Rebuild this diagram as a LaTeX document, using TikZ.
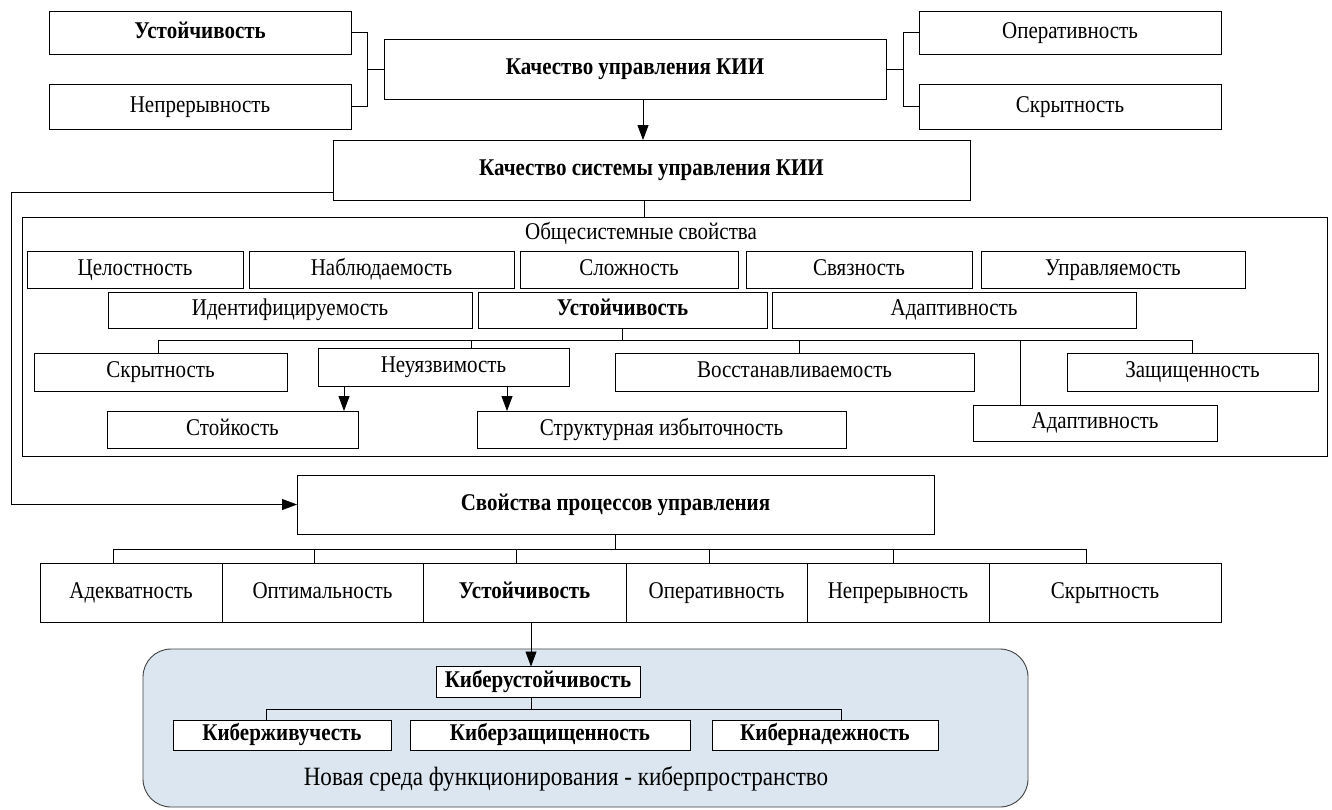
\documentclass[tikz,border=0pt]{standalone}
\usepackage{fontspec}
\setmainfont{Liberation Serif}[FakeStretch=0.875]
\usetikzlibrary{arrows.meta}
\definecolor{envc}{RGB}{220,230,240}
\tikzset{
  ln/.style={line width=0.9pt, draw=black},
  arr/.style={ln, -{Triangle[length=15pt,width=11pt]}},
  box/.style={draw, line width=0.9pt, fill=white, inner sep=0pt, outer sep=0pt,
    font=\fontsize{24}{28}\selectfont, text height=16pt, text depth=5pt, align=center},
  bbox/.style={box, font=\fontsize{24}{28}\selectfont\bfseries},
  lbl/.style={inner sep=0pt, font=\fontsize{24}{28}\selectfont, text height=16pt, text depth=5pt}
}
\begin{document}
\begin{tikzpicture}[x=1pt,y=-1pt]
\useasboundingbox (0,0) rectangle (1332,809);
% --- top level
\node[bbox, minimum width=302pt, minimum height=43pt] (ust1) at (200,32.5) {Устойчивость};
\node[box, minimum width=302pt, minimum height=45pt] (nepr1) at (200,106.5) {Непрерывность};
\node[bbox, minimum width=502pt, minimum height=60pt] (top) at (635,69) {Качество управления КИИ};
\node[box, minimum width=302pt, minimum height=43pt] (oper1) at (1070,32.5) {Оперативность};
\node[box, minimum width=302pt, minimum height=45pt] (skr1) at (1070,106.5) {Скрытность};
\draw[ln] (ust1.east) -- ++(16,0) |- (top.west);
\draw[ln] (nepr1.east) -- ++(16,0) |- (top.west);
\draw[ln] (top.east) -- ++(17,0) |- (oper1.west);
\draw[ln] (top.east) -- ++(17,0) |- (skr1.west);
% --- system quality
\node[bbox, minimum width=637pt, minimum height=60pt] (sys) at (651.5,170) {Качество системы управления КИИ};
\coordinate (a0) at ([xshift=8pt]top.south);
\draw[arr] (a0) -- (a0 |- sys.north);
% --- general properties container
\node[draw, line width=0.9pt, inner sep=0pt, outer sep=0pt, minimum width=1305pt, minimum height=239pt] (gen) at (674.5,336.5) {};
\node[lbl] (genl) at (641,234) {Общесистемные свойства};
\coordinate (a1) at ([xshift=-7.5pt]sys.south);
\draw[ln] (a1) -- (a1 |- gen.north);
% row 1
\node[box, minimum width=216pt, minimum height=37pt] (cel) at (135,269.5) {Целостность};
\node[box, minimum width=265pt, minimum height=37pt] (nabl) at (381.5,269.5) {Наблюдаемость};
\node[box, minimum width=218pt, minimum height=37pt] (slozh) at (629,269.5) {Сложность};
\node[box, minimum width=226pt, minimum height=37pt] (svyaz) at (859,269.5) {Связность};
\node[box, minimum width=264pt, minimum height=37pt] (upr) at (1113,269.5) {Управляемость};
% row 2
\node[box, minimum width=364pt, minimum height=36pt] (ident) at (290,310) {Идентифицируемость};
\node[bbox, minimum width=289pt, minimum height=36pt] (ust2) at (622.5,310) {Устойчивость};
\node[box, minimum width=364pt, minimum height=36pt] (adapt1) at (954,310) {Адаптивность};
% row 3
\node[box, minimum width=253pt, minimum height=38pt] (skr2) at (160.5,372) {Скрытность};
\node[box, minimum width=251pt, minimum height=38pt] (neuyaz) at (443.5,367) {Неуязвимость};
\node[box, minimum width=359pt, minimum height=38pt] (vosst) at (794.5,372) {Восстанавливаемость};
\node[box, minimum width=251pt, minimum height=38pt] (zasch) at (1192.5,372) {Защищенность};
\node[box, minimum width=244pt, minimum height=36pt] (adapt2) at (1095,423) {Адаптивность};
% row 4
\node[box, minimum width=251pt, minimum height=37pt] (stoik) at (232.5,429.5) {Стойкость};
\node[box, minimum width=369pt, minimum height=37pt] (struct) at (661.5,429.5) {Структурная избыточность};
% tree of stability
\coordinate (bus1) at (0,340);
\coordinate (d1) at ([xshift=-2.5pt]skr2.north);
\coordinate (d2) at ([xshift=27.5pt]neuyaz.north);
\coordinate (d3) at ([xshift=4.5pt]vosst.north);
\coordinate (d4) at ([xshift=-75pt]adapt2.north);
\coordinate (d5) at ([xshift=-0.5pt]zasch.north);
\draw[ln] (ust2.south) -- (ust2.south |- bus1);
\draw[ln] (d1) |- (d5 |- bus1) -- (d5);
\draw[ln] (d2) -- (d2 |- bus1);
\draw[ln] (d3) -- (d3 |- bus1);
\draw[ln] (d4) -- (d4 |- bus1);
\coordinate (n1) at ([xshift=111.5pt]stoik.north);
\coordinate (n2) at ([xshift=-154.5pt]struct.north);
\draw[arr] (n1 |- neuyaz.south) -- (n1);
\draw[arr] (n2 |- neuyaz.south) -- (n2);
% --- process properties
\node[bbox, minimum width=637pt, minimum height=59pt] (proc) at (615.5,504.5) {Свойства процессов управления};
\draw[arr] ([yshift=-22pt]sys.west) -- ++(-322,0) |- (proc.west);
\node[box, minimum width=182pt, minimum height=59pt] (adekv) at (131,592.5) {Адекватность};
\node[box, minimum width=201pt, minimum height=59pt] (optim) at (322.5,592.5) {Оптимальность};
\node[bbox, minimum width=203pt, minimum height=59pt] (ust3) at (524.5,592.5) {Устойчивость};
\node[box, minimum width=181pt, minimum height=59pt] (oper2) at (716.5,592.5) {Оперативность};
\node[box, minimum width=182pt, minimum height=59pt] (nepr2) at (898,592.5) {Непрерывность};
\node[box, minimum width=232pt, minimum height=59pt] (skr3) at (1105,592.5) {Скрытность};
\coordinate (bus2) at (0,549);
\coordinate (p1) at ([xshift=-18pt]adekv.north);
\coordinate (p2) at ([xshift=-8.5pt]optim.north);
\coordinate (p3) at ([xshift=-8.5pt]ust3.north);
\coordinate (p4) at ([xshift=-7.5pt]oper2.north);
\coordinate (p5) at ([xshift=-5pt]nepr2.north);
\coordinate (p6) at ([xshift=-19pt]skr3.north);
\draw[ln] (proc.south) -- (proc.south |- bus2);
\draw[ln] (p1) |- (p6 |- bus2) -- (p6);
\draw[ln] (p2) -- (p2 |- bus2);
\draw[ln] (p3) -- (p3 |- bus2);
\draw[ln] (p4) -- (p4 |- bus2);
\draw[ln] (p5) -- (p5 |- bus2);
% --- cyber environment
\node[draw, line width=0.9pt, draw=black!75, fill=envc, rounded corners=28pt, inner sep=0pt, minimum width=885pt, minimum height=158pt] (env) at (585.5,728) {};
\node[lbl, font=\fontsize{26.4}{30}\selectfont] (envl) at (566,780) {Новая среда функционирования - киберпространство};
\node[bbox, minimum width=204pt, minimum height=31pt] (kust) at (538,682) {Киберустойчивость};
\node[bbox, minimum width=218pt, minimum height=30pt] (kziv) at (282,735) {Киберживучесть};
\node[bbox, minimum width=280pt, minimum height=30pt] (kzasch) at (550,735) {Киберзащищенность};
\node[bbox, minimum width=226pt, minimum height=30pt] (knad) at (825,735) {Кибернадежность};
\coordinate (a3) at ([xshift=6.5pt]ust3.south);
\draw[arr] (a3) -- (a3 |- kust.north);
\coordinate (bus3) at (0,709);
\coordinate (k0) at ([xshift=-7pt]kust.south);
\coordinate (k1) at ([xshift=-16pt]kziv.north);
\coordinate (k3) at ([xshift=16pt]knad.north);
\draw[ln] (k0) -- (k0 |- bus3);
\draw[ln] (k1) |- (k3 |- bus3) -- (k3);
\end{tikzpicture}
\end{document}
